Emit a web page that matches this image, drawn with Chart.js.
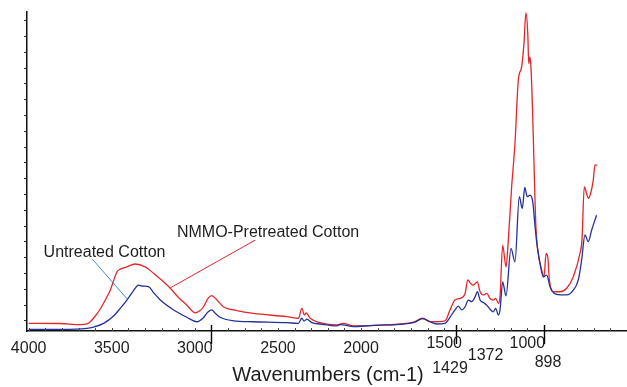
<!DOCTYPE html>
<html>
<head>
<meta charset="utf-8">
<script src="https://cdn.jsdelivr.net/npm/chart.js@4.4.1/dist/chart.umd.min.js"></script>
<style>
  html, body { margin: 0; padding: 0; background: #ffffff; }
  #wrap { position: relative; width: 627px; height: 387px; }
</style>
</head>
<body>
<div id="wrap"><canvas id="c"></canvas></div>
<script>
// ---- Data ----
const untreatedWavenumbers = [4000,3810,3649,3610,3549,3489,3449,3409,3371,3339,3317,3279,3251,3208,3128,3048,2988,2950,2920,2898,2878,2848,2768,2647,2447,2377,2356,2343,2326,2296,2246,2146,2126,2106,2046,1946,1845,1765,1685,1629,1585,1545,1495,1465,1435,1415,1394,1374,1355,1334,1314,1300,1284,1264,1244,1224,1204,1190,1174,1164,1148,1128,1098,1074,1048,1030,1015,1000,984,967,953,940,923,904,883,863,839,803,763,723,693,673,653,633,613,583];
const untreatedAbsorbance = [0.005,0.005,0.008,0.012,0.024,0.047,0.071,0.097,0.125,0.144,0.141,0.139,0.122,0.097,0.066,0.043,0.029,0.041,0.060,0.066,0.056,0.043,0.032,0.029,0.026,0.024,0.040,0.031,0.037,0.026,0.022,0.016,0.020,0.019,0.014,0.017,0.019,0.021,0.026,0.0385,0.029,0.022,0.024,0.043,0.066,0.078,0.066,0.076,0.097,0.092,0.107,0.123,0.097,0.089,0.081,0.068,0.060,0.071,0.050,0.066,0.154,0.110,0.259,0.217,0.421,0.384,0.450,0.421,0.426,0.405,0.327,0.264,0.212,0.170,0.175,0.139,0.118,0.113,0.113,0.128,0.160,0.222,0.301,0.280,0.316,0.363];

const nmmoWavenumbers = [4000,3810,3690,3649,3629,3599,3569,3539,3509,3469,3449,3409,3359,3299,3249,3208,3148,3100,3048,2998,2968,2948,2920,2898,2867,2828,2747,2647,2447,2377,2356,2341,2330,2306,2246,2146,2106,2046,1946,1845,1765,1685,1629,1585,1495,1465,1435,1405,1374,1358,1340,1325,1300,1284,1264,1244,1224,1204,1190,1174,1164,1148,1128,1114,1094,1074,1054,1034,1020,1008,997,991,984,978,967,958,948,934,913,899,887,877,867,843,803,763,723,683,671,657,643,633,619,603,593,579];
const nmmoAbsorbance = [0.024,0.0235,0.020,0.022,0.029,0.047,0.069,0.097,0.128,0.185,0.194,0.201,0.210,0.201,0.181,0.163,0.134,0.106,0.081,0.057,0.064,0.076,0.103,0.111,0.097,0.076,0.064,0.055,0.045,0.040,0.071,0.050,0.057,0.040,0.026,0.019,0.024,0.016,0.017,0.019,0.022,0.028,0.040,0.029,0.032,0.066,0.097,0.102,0.118,0.160,0.149,0.144,0.154,0.123,0.113,0.118,0.102,0.097,0.102,0.087,0.107,0.269,0.201,0.285,0.452,0.588,0.786,0.828,0.901,0.997,0.932,0.838,0.859,0.828,0.671,0.494,0.327,0.243,0.190,0.170,0.243,0.233,0.160,0.123,0.123,0.134,0.170,0.243,0.285,0.452,0.431,0.416,0.431,0.473,0.520,0.520];

const seriesNames = ['Untreated Cotton', 'NMMO-Pretreated Cotton'];
const xTickLabels = ['4000','3500','3000','2500','2000','1500','1000'];
const markerWavenumbers = [2900, 1429, 898];
const peakLabels = ['1429','1372','898'];
const axisTitle = 'Wavenumbers (cm-1)';

// ---- Styling ----
const RED = '#e4262b';
const BLUE = '#23329a';
const LEADER_BLUE = '#3f8fd0';
const TEXT = '#1e1e1e';
const FONT = "'Liberation Sans', Arial, Helvetica, sans-serif";

const toPoints = (xs, ys) => xs.map((x, i) => ({ x: x, y: ys[i] }));

// y-axis tick marks (no labels)
const yTickValues = [];
for (let k = 0; k < 20; k++) yTickValues.push(0.032 + k * 0.0495);

const overlay = {
  id: 'overlay',
  afterDraw(chart) {
    const { ctx } = chart;
    const x = chart.scales.x, y = chart.scales.y;
    const base = y.bottom;
    ctx.save();
    // minor x ticks every 100 cm-1 (inside)
    ctx.strokeStyle = '#444';
    ctx.lineWidth = 1;
    for (let w = 4000; w >= 500; w -= 100) {
      const px = Math.round(x.getPixelForValue(w)) + 0.5;
      ctx.beginPath(); ctx.moveTo(px, base); ctx.lineTo(px, base - 3); ctx.stroke();
    }
    // long marker ticks
    ctx.strokeStyle = '#000';
    ctx.lineWidth = 1.4;
    markerWavenumbers.forEach(w => {
      const px = Math.round(x.getPixelForValue(w)) + 0.5;
      ctx.beginPath(); ctx.moveTo(px, base - 6); ctx.lineTo(px, base + 13); ctx.stroke();
    });
    // main tick labels
    ctx.fillStyle = TEXT;
    ctx.font = '16px ' + FONT;
    ctx.textAlign = 'center';
    ctx.textBaseline = 'alphabetic';
    xTickLabels.forEach(t => {
      const v = parseFloat(t);
      const px = x.getPixelForValue(v);
      const dy = v <= 1500 ? 16.5 : 21.5;
      ctx.fillText(t, px, base + dy);
    });
    // peak labels
    const peakPos = { '1429': [1465, 42], '1372': [1251, 28.5], '898': [875, 35.5] };
    peakLabels.forEach(t => {
      const p = peakPos[t];
      ctx.fillText(t, x.getPixelForValue(p[0]), base + p[1]);
    });
    // axis title
    ctx.font = '20px ' + FONT;
    ctx.fillText(axisTitle, (x.left + x.right) / 2 + 1, base + 50);

    // annotations
    ctx.lineWidth = 1;
    ctx.strokeStyle = LEADER_BLUE;
    ctx.beginPath();
    ctx.moveTo(x.getPixelForValue(3617), y.getPixelForValue(0.2255));
    ctx.lineTo(x.getPixelForValue(3407), y.getPixelForValue(0.100));
    ctx.stroke();
    ctx.strokeStyle = RED;
    ctx.beginPath();
    ctx.moveTo(x.getPixelForValue(2637), y.getPixelForValue(0.285));
    ctx.lineTo(x.getPixelForValue(3148), y.getPixelForValue(0.135));
    ctx.stroke();

    ctx.font = '16px ' + FONT;
    ctx.textAlign = 'left';
    ctx.fillStyle = TEXT;
    ctx.fillText(seriesNames[0], x.getPixelForValue(3910), y.getPixelForValue(0.233));
    ctx.fillText(seriesNames[1], x.getPixelForValue(3108), y.getPixelForValue(0.296));
    ctx.restore();
  }
};

const bgPlugin = {
  id: 'bg',
  beforeDraw(chart) {
    const c = chart.ctx;
    c.save(); c.fillStyle = '#fff'; c.fillRect(0, 0, chart.width, chart.height); c.restore();
  }
};

new Chart(document.getElementById('c'), {
  type: 'line',
  data: {
    datasets: [
      { label: seriesNames[0], data: toPoints(untreatedWavenumbers, untreatedAbsorbance),
        borderColor: BLUE, borderWidth: 1.3, pointRadius: 0, cubicInterpolationMode: 'monotone', fill: false },
      { label: seriesNames[1], data: toPoints(nmmoWavenumbers, nmmoAbsorbance),
        borderColor: RED, borderWidth: 1.3, pointRadius: 0, cubicInterpolationMode: 'monotone', fill: false }
    ]
  },
  options: {
    responsive: true,
    maintainAspectRatio: false,
    devicePixelRatio: 1,
    animation: false,
    layout: { padding: { top: 12, right: 0, bottom: 0, left: 0 } },
    plugins: { legend: { display: false }, tooltip: { enabled: false } },
    scales: {
      x: {
        type: 'linear', reverse: true, min: 400, max: 4010,
        ticks: { display: false },
        grid: { display: false, drawTicks: false },
        border: { display: true, color: '#111', width: 1.5 },
        afterFit(s) { s.height = 56; }
      },
      y: {
        type: 'linear', min: 0, max: 1,
        ticks: { display: false },
        afterBuildTicks(s) { s.ticks = yTickValues.map(v => ({ value: v })); },
        grid: { display: true, drawOnChartArea: false, drawTicks: true, tickLength: 3, color: '#333', lineWidth: 1 },
        border: { display: true, color: '#111', width: 1.5 },
        afterFit(s) { s.width = 27; }
      }
    }
  },
  plugins: [bgPlugin, overlay]
});
</script>
</body>
</html>
